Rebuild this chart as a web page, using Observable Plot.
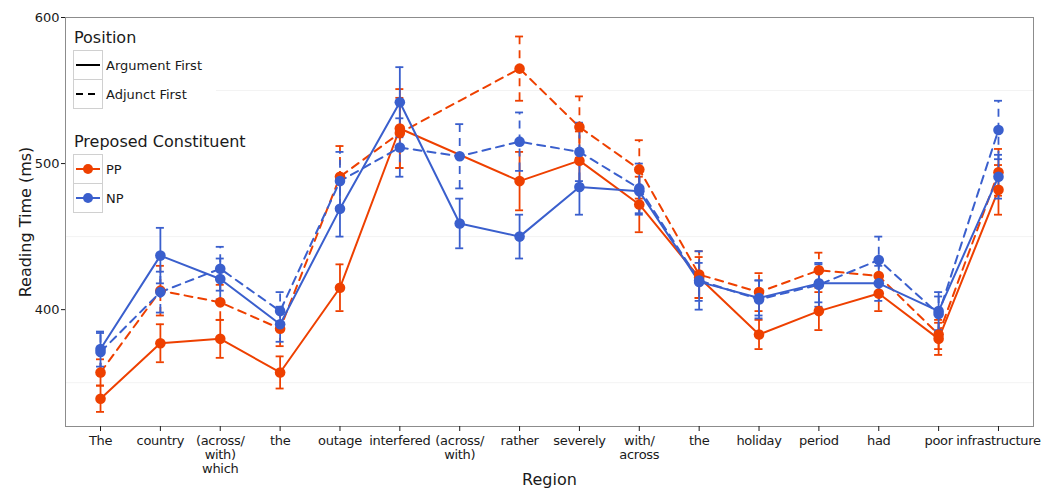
<!DOCTYPE html>
<html><head><meta charset="utf-8">
<script src="https://cdn.jsdelivr.net/npm/d3@7"></script>
<script src="https://cdn.jsdelivr.net/npm/@observablehq/plot@0.6"></script>
<style>body{margin:0;background:#fff;} svg{display:block}</style>
</head><body><div id="chart"></div>
<script>
const regions = ["The","country","(across/\nwith)\nwhich","the","outage","interfered","(across/\nwith)","rather","severely","with/\nacross","the","holiday","period","had","poor","infrastructure"];
const yTicks = [400, 500, 600];
const ppArgMean = [339, 377, 380, 357, 415, 524, null, 488, 502, 472, 422, 383, 399, 411, 380, 482];
const ppArgSe   = [9, 13, 13, 11, 16, 27, null, 20, 20, 19, 14, 10, 13, 12, 11, 17];
const ppAdjMean = [357, 413, 405, 387, 491, 521, null, 565, 525, 496, 424, 412, 427, 423, 383, 494];
const ppAdjSe   = [9, 17, 12, 12, 21, 24, null, 22, 21, 20, 16, 13, 12, 12, 10, 16];
const npArgMean = [373, 437, 421, 390, 469, 542, 459, 450, 484, 481, 419, 408, 418, 418, 399, 491];
const npArgSe   = [12, 19, 14, 12, 19, 24, 17, 15, 19, 16, 13, 12, 13, 12, 13, 15];
const npAdjMean = [371, 412, 428, 399, 488, 511, 505, 515, 508, 483, 420, 407, 417, 434, 397, 523];
const npAdjSe   = [13, 14, 15, 13, 20, 20, 22, 20, 20, 17, 20, 13, 15, 16, 12, 20];

const colors = {PP: "#EE4000", NP: "#3A5FCD"};
const dashes = {"Argument First": null, "Adjunct First": "8,6"};

const series = [
  {constituent: "PP", position: "Argument First", mean: ppArgMean, se: ppArgSe},
  {constituent: "PP", position: "Adjunct First", mean: ppAdjMean, se: ppAdjSe},
  {constituent: "NP", position: "Argument First", mean: npArgMean, se: npArgSe},
  {constituent: "NP", position: "Adjunct First", mean: npAdjMean, se: npAdjSe}
];

const marks = [
  Plot.gridY([350, 450, 550], {stroke: "#f3f3f3", strokeOpacity: 1}),
  Plot.frame({stroke: "#8c8c8c"})
];
for (const s of series) {
  const data = s.mean.map((m, i) => m == null ? null : {i, mean: m, lo: m - s.se[i], hi: m + s.se[i]}).filter(Boolean);
  const stroke = colors[s.constituent];
  const dash = dashes[s.position];
  marks.push(Plot.line(data, {x: "i", y: "mean", stroke, strokeWidth: 2, strokeDasharray: dash}));
  marks.push(Plot.ruleX(data, {x: "i", y1: "lo", y2: "hi", stroke, strokeWidth: 1.8, strokeDasharray: dash}));
  marks.push(Plot.ruleY(data, {y: "hi", x1: "i", x2: "i", insetLeft: -4, insetRight: -4, stroke, strokeWidth: 1.8}));
  marks.push(Plot.ruleY(data, {y: "lo", x1: "i", x2: "i", insetLeft: -4, insetRight: -4, stroke, strokeWidth: 1.8}));
}
for (const s of series) {
  const data = s.mean.map((m, i) => m == null ? null : {i, mean: m}).filter(Boolean);
  marks.push(Plot.dot(data, {x: "i", y: "mean", r: 5.3, fill: colors[s.constituent], stroke: "none"}));
}
marks.push(Plot.axisY({ticks: yTicks, tickSize: 4, tickPadding: 2, label: "Reading Time (ms)", labelAnchor: "center", labelArrow: "none", labelOffset: 46, fontSize: 13}));
marks.push(Plot.axisX({ticks: d3.range(regions.length), tickFormat: i => regions[i], tickSize: 5, tickPadding: 3, lineHeight: 1.1, label: "Region", labelAnchor: "center", labelArrow: "none", labelOffset: 58, fontSize: 13}));

const plot = Plot.plot({
  width: 1060, height: 489,
  marginTop: 17, marginBottom: 63, marginLeft: 65, marginRight: 27,
  style: {fontFamily: "DejaVu Sans", fontSize: "13px", color: "#1a1a1a", background: "#fff"},
  x: {type: "point", domain: d3.range(regions.length), padding: 0.585, round: false},
  y: {domain: [320, 600]},
  marks
});
document.getElementById("chart").append(plot);

d3.select(plot).selectAll("g[aria-label='x-axis label'] text, g[aria-label='y-axis label'] text").attr("font-size", 16);
d3.select(plot).selectAll("g[aria-label='x-axis tick label'] text").attr("letter-spacing", "-0.3px");

// Legend
const svg = d3.select(plot);
const g = svg.append("g").attr("font-family", "DejaVu Sans").attr("fill", "#1a1a1a").attr("text-anchor", "start");
g.append("rect").attr("x", 66).attr("y", 19).attr("width", 150).attr("height", 198).attr("fill", "#fff");
g.append("text").attr("x", 74).attr("y", 43).attr("font-size", 16).text("Position");
const posKeys = ["Argument First", "Adjunct First"];
posKeys.forEach((k, j) => {
  const y0 = 50.5 + j * 29;
  g.append("rect").attr("x", 73.5).attr("y", y0).attr("width", 29).attr("height", 29).attr("fill", "#fff").attr("stroke", "#d0d0d0");
  g.append("line").attr("x1", 76).attr("x2", 100).attr("y1", y0 + 14.5).attr("y2", y0 + 14.5)
    .attr("stroke", "#000").attr("stroke-width", 2).attr("stroke-dasharray", dashes[k] ? "7,5" : null);
  g.append("text").attr("x", 106).attr("y", y0 + 14.5).attr("dy", "0.35em").attr("font-size", 13).text(k);
});
g.append("text").attr("x", 74).attr("y", 147).attr("font-size", 16).text("Preposed Constituent");
["PP", "NP"].forEach((k, j) => {
  const y0 = 154.5 + j * 29;
  g.append("rect").attr("x", 73.5).attr("y", y0).attr("width", 29).attr("height", 29).attr("fill", "#fff").attr("stroke", "#d0d0d0");
  g.append("line").attr("x1", 76).attr("x2", 100).attr("y1", y0 + 14.5).attr("y2", y0 + 14.5)
    .attr("stroke", colors[k]).attr("stroke-width", 2);
  g.append("circle").attr("cx", 88).attr("cy", y0 + 14.5).attr("r", 5).attr("fill", colors[k]);
  g.append("text").attr("x", 106).attr("y", y0 + 14.5).attr("dy", "0.35em").attr("font-size", 13).text(k);
});
</script>
</body></html>
